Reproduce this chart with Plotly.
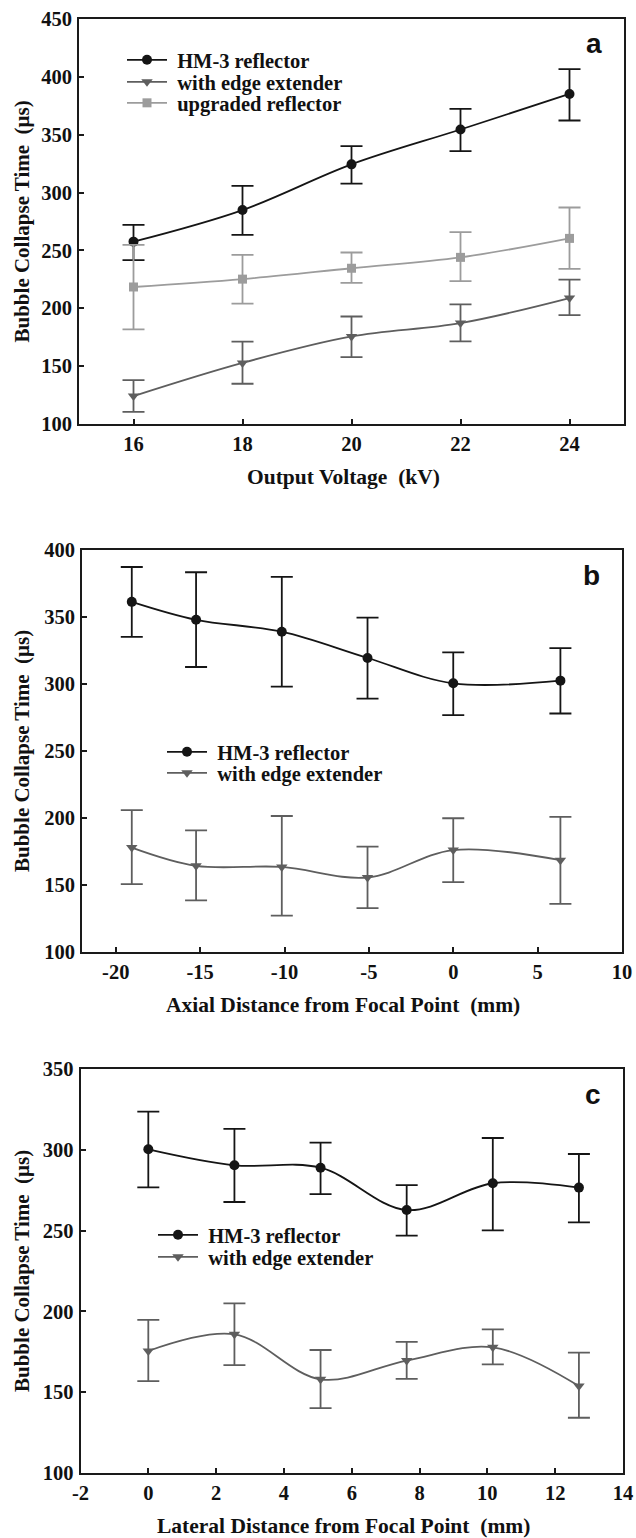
import plotly.graph_objects as go

W, H = 636, 1538

# ---------------- data ----------------
voltage = [16, 18, 20, 22, 24]
a_hm3 = [257.6, 284.9, 324.4, 354.5, 385.2]
a_hm3_hi = [272.0, 305.8, 340.2, 372.3, 406.7]
a_hm3_lo = [241.6, 263.4, 307.8, 335.9, 362.3]
a_ext = [124.1, 152.8, 175.7, 187.2, 208.8]
a_ext_hi = [137.9, 171.2, 192.9, 203.4, 224.8]
a_ext_lo = [110.4, 134.8, 157.8, 171.4, 194.1]
a_upg = [218.4, 225.2, 234.6, 244.0, 260.4]
a_upg_hi = [254.8, 246.2, 248.2, 265.9, 287.1]
a_upg_lo = [181.7, 204.1, 221.9, 223.4, 234.0]

axial = [-19.05, -15.24, -10.16, -5.08, 0, 6.35]
b_hm3 = [361.3, 347.9, 339.0, 319.4, 300.5, 302.5]
b_hm3_hi = [387.3, 383.4, 379.9, 349.6, 323.6, 326.8]
b_hm3_lo = [335.2, 312.7, 298.0, 289.1, 276.7, 278.0]
b_ext = [177.9, 164.3, 163.5, 155.6, 176.1, 168.5]
b_ext_hi = [205.9, 190.8, 201.5, 178.6, 199.8, 200.8]
b_ext_lo = [150.6, 138.5, 127.1, 132.7, 152.2, 135.9]

lateral = [0, 2.54, 5.08, 7.62, 10.16, 12.7]
c_hm3 = [300.3, 290.4, 288.9, 262.7, 279.3, 276.6]
c_hm3_hi = [323.6, 312.9, 304.4, 278.2, 307.3, 297.4]
c_hm3_lo = [276.8, 267.7, 272.6, 246.9, 250.2, 255.1]
c_ext = [175.5, 185.8, 158.0, 169.6, 177.8, 153.8]
c_ext_hi = [194.7, 205.0, 176.1, 181.1, 188.9, 174.5]
c_ext_lo = [156.9, 166.8, 140.2, 158.2, 167.2, 134.2]

x_ticks_a = [16, 18, 20, 22, 24]
x_ticks_b = [-20, -15, -10, -5, 0, 5, 10]
x_ticks_c = [-2, 0, 2, 4, 6, 8, 10, 12, 14]

name_hm3 = "HM-3 reflector"
name_ext = "with edge extender"
name_upg = "upgraded reflector"

x_titles = ["Output Voltage\u00a0\u00a0(kV)",
            "Axial Distance from Focal Point\u00a0\u00a0(mm)",
            "Lateral Distance from Focal Point\u00a0\u00a0(mm)"]
y_title = "Bubble Collapse Time\u00a0\u00a0(μs)"
panel_letters = ["a", "b", "c"]

# ---------------- style ----------------
C_HM3 = "#151515"
C_EXT = "#5e5e5e"
C_UPG = "#9c9c9c"
SERIF = "Liberation Serif, Times New Roman, serif"
SANS = "Liberation Sans, Arial, sans-serif"
AX = "#1a1a1a"


def px_x(p):
    return p / W


def px_y(p):
    return 1 - p / H


# plot boxes in pixels: (left, right, top, bottom)
boxes = [(79, 624, 19, 424), (82, 622, 550, 952), (80.5, 623, 1069, 1473)]
# legend rows: (line start x, row centre y) per entry
leg_pos = {
    "legend": (127, 60), "legend2": (127, 82), "legend3": (127, 103),
    "legend4": (167, 752), "legend5": (167, 773),
    "legend6": (158, 1235), "legend7": (158, 1257),
}

fig = go.Figure()


def add(x, y, hi, lo, name, color, symbol, size, idx, legend):
    sfx = "" if idx == 1 else str(idx)
    fig.add_trace(go.Scatter(
        x=x, y=y, name="\u00a0" + name, mode="lines+markers",
        line=dict(color=color, width=1.8, shape="spline", smoothing=1.0),
        marker=dict(symbol=symbol, size=size, color=color),
        error_y=dict(type="data", symmetric=False,
                     array=[h - v for h, v in zip(hi, y)],
                     arrayminus=[v - l for v, l in zip(y, lo)],
                     color=color, thickness=1.8, width=11),
        xaxis="x" + sfx, yaxis="y" + sfx, legend=legend,
    ))


add(voltage, a_hm3, a_hm3_hi, a_hm3_lo, name_hm3, C_HM3, "circle", 10, 1, "legend")
add(voltage, a_ext, a_ext_hi, a_ext_lo, name_ext, C_EXT, "triangle-down", 10, 1, "legend2")
add(voltage, a_upg, a_upg_hi, a_upg_lo, name_upg, C_UPG, "square", 9, 1, "legend3")
add(axial, b_hm3, b_hm3_hi, b_hm3_lo, name_hm3, C_HM3, "circle", 10, 2, "legend4")
add(axial, b_ext, b_ext_hi, b_ext_lo, name_ext, C_EXT, "triangle-down", 10, 2, "legend5")
add(lateral, c_hm3, c_hm3_hi, c_hm3_lo, name_hm3, C_HM3, "circle", 10, 3, "legend6")
add(lateral, c_ext, c_ext_hi, c_ext_lo, name_ext, C_EXT, "triangle-down", 10, 3, "legend7")

tickfont = dict(family=SERIF, size=20.5, color="#111", weight="bold")
x_ranges = [[15, 25], [-22, 10], [-2, 14]]
x_ticks = [x_ticks_a, x_ticks_b, x_ticks_c]
y_ranges = [[100, 450], [100, 400], [100, 350]]

layout = dict(
    width=W, height=H, margin=dict(l=0, r=0, t=0, b=0, autoexpand=False),
    paper_bgcolor="white", plot_bgcolor="white",
    font=dict(family=SERIF, size=18, color="#111"),
    showlegend=True,
)
annotations = []
for i, (l, r, t, b) in enumerate(boxes):
    sfx = "" if i == 0 else str(i + 1)
    layout["xaxis" + sfx] = dict(
        domain=[px_x(l), px_x(r)], range=x_ranges[i], anchor="y" + sfx,
        tickmode="array", tickvals=x_ticks[i],
        ticktext=[str(v) for v in x_ticks[i]],
        ticks="inside", ticklen=5,
        tickwidth=1.8, tickcolor=AX, showline=True, linecolor=AX, linewidth=2,
        mirror=True, showgrid=False, zeroline=False, tickfont=tickfont,
        ticklabelstandoff=0, ticklabeloverflow="allow",
        automargin=False, fixedrange=True,
    )
    layout["yaxis" + sfx] = dict(
        domain=[px_y(b), px_y(t)], range=y_ranges[i], anchor="x" + sfx,
        dtick=50, ticks="inside", ticklen=5, tickwidth=1.8, tickcolor=AX,
        showline=True, linecolor=AX, linewidth=2,
        mirror=True, showgrid=False, zeroline=False, tickfont=tickfont,
        ticklabelstandoff=1, ticklabeloverflow="allow",
        automargin=False, fixedrange=True,
    )
    annotations.append(dict(
        text=x_titles[i], xref="paper", yref="paper",
        x=px_x(343), y=px_y(b + 53), xanchor="center", yanchor="middle",
        showarrow=False, font=dict(family=SERIF, size=21.5, color="#111", weight="bold")))
    annotations.append(dict(
        text=y_title, xref="paper", yref="paper", textangle=-90,
        x=px_x(22), y=px_y((t + b) / 2), xanchor="center", yanchor="middle",
        showarrow=False, font=dict(family=SERIF, size=21, color="#111", weight="bold")))
    annotations.append(dict(
        text=panel_letters[i], xref="paper", yref="paper",
        x=px_x(r - 20), y=px_y(t + 25), xanchor="right", yanchor="middle",
        showarrow=False, font=dict(family=SANS, size=28, color="#111", weight="bold")))
layout["annotations"] = annotations

leg_font = dict(family=SERIF, size=20.5, color="#111", weight="bold")
for key, (lx, ly) in leg_pos.items():
    layout[key] = dict(x=px_x(lx - 5), y=px_y(ly), xanchor="left", yanchor="middle",
                       bgcolor="rgba(0,0,0,0)", borderwidth=0, font=leg_font,
                       itemwidth=40, itemclick=False, itemdoubleclick=False)

fig.update_layout(**layout)
fig.write_html(
    "out.html",
    config=dict(displayModeBar=False),
    post_script="document.body.style.margin='0px';document.body.style.overflow='hidden';",
)
